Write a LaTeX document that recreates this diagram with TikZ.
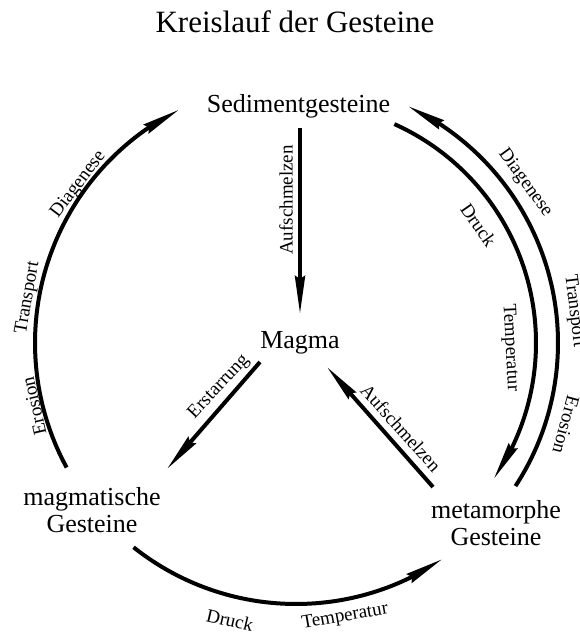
\documentclass[tikz,border=0pt]{standalone}
\usepackage{fontspec}
\setmainfont{Liberation Serif}
\usetikzlibrary{arrows.meta,bending}
\begin{document}
\begin{tikzpicture}[x=1pt,y=1pt,
  arr/.style={line width=4pt,-{Stealth[length=38pt,width=10pt,inset=3pt]}},
  arcline/.style={line width=4pt},
  big/.style={font=\fontsize{26}{27}\selectfont, inner sep=0pt},
  ttl/.style={font=\fontsize{31}{31}\selectfont, inner sep=0pt},
  lbl/.style={font=\fontsize{19}{19}\selectfont, inner sep=0pt}
]
\useasboundingbox (0,0) rectangle (580,-634);
\fill[white] (0,0) rectangle (580,-634);

% title and main nodes
\node[ttl, anchor=base] (title) at (295,-33) {Kreislauf der Gesteine};
\node[big, anchor=base] (sed) at (298.5,-112) {Sedimentgesteine};
\node[big, anchor=base] (mag) at (300,-348) {Magma};
\node[big, anchor=base, align=center] (mgm) at (92,-532) {magmatische\\Gesteine};
\node[big, anchor=base, align=center] (met) at (496,-545) {metamorphe\\Gesteine};

% circle centre
\coordinate (C) at (296,-343);

% straight connectors
\coordinate (s1) at (300,-128);
\coordinate (m1) at (300,-314);
\coordinate (m2) at (260,-362);
\coordinate (g1) at (167,-469);
\coordinate (t1) at (433,-487);
\coordinate (m3) at (327,-367);
\draw[arr] (s1) -- (m1);
\draw[arr] (m2) -- (g1);
\draw[arr] (t1) -- (m3);

% arcs
\draw[arcline, arr] ([shift={(208.5:261)}]C) arc[start angle=208.5, end angle=116.6, radius=261];
\draw[arcline, arr] ([shift={(231.5:261)}]C) arc[start angle=231.5, end angle=304.1, radius=261];
\draw[arcline, arr] ([shift={(-33.1:262)}]C) arc[start angle=-33.1, end angle=64.7, radius=262];
\draw[arcline, arr] ([shift={(65.8:240)}]C) arc[start angle=65.8, end angle=-34.5, radius=240];

% labels
\node[lbl, rotate=90] (l1) at (286,-200) {Aufschmelzen};
\node[lbl, rotate=47] (l2) at (219,-387) {Erstarrung};
\node[lbl, rotate=-48] (l3) at (401,-428) {Aufschmelzen};
\node[lbl, rotate=53] (l4) at (78.5,-184.5) {Diagenese};
\node[lbl, rotate=80] (l5) at (28,-298) {Transport};
\node[lbl, rotate=103] (l6) at (34,-406) {Erosion};
\node[lbl, rotate=-54] (l7) at (525,-183) {Diagenese};
\node[lbl, rotate=-83] (l8) at (574,-311) {Transport};
\node[lbl, rotate=-105] (l9) at (566,-425) {Erosion};
\node[lbl, rotate=-55] (l10) at (478.5,-225) {Druck};
\node[lbl, rotate=-87] (l11) at (510,-347.5) {Temperatur};
\node[lbl, rotate=-13] (l12) at (230,-620) {Druck};
\node[lbl, rotate=10] (l13) at (345,-617) {Temperatur};
\end{tikzpicture}
\end{document}
